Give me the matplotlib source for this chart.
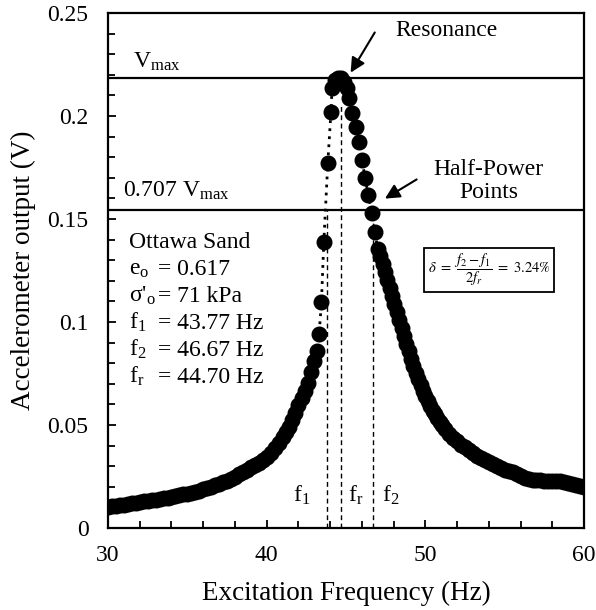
import matplotlib

matplotlib.use("Agg")
import matplotlib.pyplot as plt
from matplotlib.ticker import MultipleLocator

plt.rcParams["font.family"] = ["Liberation Serif", "DejaVu Serif"]
plt.rcParams["mathtext.fontset"] = "stix"

# resonant column sweep, Ottawa sand
freq_hz = [
    30.00, 30.25, 30.50, 30.75, 31.00, 31.25, 31.50, 31.75, 32.00, 32.25,
    32.50, 32.75, 33.00, 33.25, 33.50, 33.75, 34.00, 34.25, 34.50, 34.75,
    35.00, 35.25, 35.50, 35.75, 36.00, 36.25, 36.50, 36.75, 37.00, 37.25,
    37.50, 37.75, 38.00, 38.25, 38.50, 38.75, 39.00, 39.25, 39.50, 39.75,
    40.00, 40.25, 40.50, 40.75, 41.00, 41.20, 41.40, 41.60, 41.80, 42.00,
    42.20, 42.40, 42.60, 42.80, 43.00, 43.15, 43.30, 43.45, 43.60, 43.85,
    44.05, 44.12, 44.30, 44.50, 44.70, 44.90, 45.05, 45.20, 45.38, 45.60,
    45.80, 46.00, 46.20, 46.40, 46.62, 46.82, 47.00, 47.15, 47.30, 47.45,
    47.60, 47.75, 47.90, 48.05, 48.20, 48.35, 48.50, 48.65, 48.80, 48.95,
    49.10, 49.25, 49.40, 49.55, 49.70, 49.85, 50.00, 50.15, 50.30, 50.45,
    50.60, 50.75, 50.90, 51.05, 51.25, 51.50, 51.75, 52.00, 52.25, 52.50,
    52.75, 53.00, 53.25, 53.50, 53.75, 54.00, 54.25, 54.50, 54.75, 55.00,
    55.25, 55.50, 55.75, 56.00, 56.25, 56.50, 56.75, 57.00, 57.25, 57.50,
    57.75, 58.00, 58.25, 58.50, 58.75, 59.00, 59.25, 59.50, 59.75, 60.00,
]
accel_v = [
    0.0102, 0.0105, 0.0108, 0.0111, 0.0114, 0.0117, 0.0120, 0.0123, 0.0126, 0.0129,
    0.0132, 0.0135, 0.0138, 0.0141, 0.0144, 0.0147, 0.0151, 0.0155, 0.0159, 0.0163,
    0.0167, 0.0171, 0.0176, 0.0182, 0.0188, 0.0194, 0.0201, 0.0208, 0.0215, 0.0222,
    0.0230, 0.0240, 0.0250, 0.0260, 0.0271, 0.0282, 0.0294, 0.0306, 0.0318, 0.0331,
    0.0345, 0.0365, 0.0387, 0.0412, 0.0440, 0.0464, 0.0490, 0.0522, 0.0556, 0.0595,
    0.0630, 0.0665, 0.0705, 0.0755, 0.0810, 0.0860, 0.0940, 0.1095, 0.1390, 0.1770,
    0.2020, 0.2136, 0.2175, 0.2184, 0.2184, 0.2165, 0.2135, 0.2085, 0.2015, 0.1947,
    0.1874, 0.1786, 0.1699, 0.1617, 0.1529, 0.1437, 0.1354, 0.1318, 0.1280, 0.1243,
    0.1205, 0.1165, 0.1128, 0.1088, 0.1048, 0.1010, 0.0970, 0.0932, 0.0893, 0.0857,
    0.0820, 0.0785, 0.0752, 0.0722, 0.0693, 0.0665, 0.0640, 0.0615, 0.0592, 0.0570,
    0.0552, 0.0535, 0.0517, 0.0500, 0.0480, 0.0458, 0.0438, 0.0420, 0.0405, 0.0392,
    0.0378, 0.0365, 0.0352, 0.0340, 0.0330, 0.0320, 0.0311, 0.0302, 0.0292, 0.0283,
    0.0275, 0.0270, 0.0262, 0.0252, 0.0243, 0.0237, 0.0234, 0.0232, 0.0231, 0.0229,
    0.0228, 0.0227, 0.0226, 0.0226, 0.0222, 0.0218, 0.0213, 0.0208, 0.0203, 0.0200,
]

v_max = 0.2184
v_half = 0.707 * v_max
f1, f2, fr = 43.77, 46.67, 44.70

x_ticks = [30, 40, 50, 60]
y_ticks = [0, 0.05, 0.10, 0.15, 0.20, 0.25]
y_tick_labels = ["0", "0.05", "0.1", "0.15", "0.2", "0.25"]

sample_labels = ["Ottawa Sand", "e$_\\mathregular{o}$", "σ'$_\\mathregular{o}$",
                 "f$_\\mathregular{1}$", "f$_\\mathregular{2}$", "f$_\\mathregular{r}$"]
sample_values = ["", "= 0.617", "= 71 kPa", "= 43.77 Hz", "= 46.67 Hz", "= 44.70 Hz"]

fig = plt.figure(figsize=(5.96, 6.10), dpi=100)
ax = fig.add_axes([0.1812, 0.1344, 0.7988, 0.8443])

ax.plot(freq_hz, accel_v, color="k", lw=2, ls=(0, (1, 1.9)), zorder=3)
ax.plot(freq_hz, accel_v, "o", color="k", ms=10.5, mec="k", zorder=4)

# reference levels
ax.axhline(v_max, color="k", lw=1.6, zorder=2)
ax.axhline(v_half, color="k", lw=1.6, zorder=2)

dash = (0, (3.5, 2.5))
ax.plot([f1, f1], [0, v_half], color="k", lw=1, ls=dash, zorder=2)
ax.plot([f2, f2], [0, v_half], color="k", lw=1, ls=dash, zorder=2)
ax.plot([fr, fr], [0, 0.205], color="k", lw=1, ls=dash, zorder=2)

fs = 17
ax.text(31.58, 0.2233, "V$_\\mathregular{max}$", fontsize=fs, va="baseline")
ax.text(30.95, 0.1607, "0.707 V$_\\mathregular{max}$", fontsize=fs, va="baseline")

y0, dy = 0.1359, 0.0131
for i, (lab, val) in enumerate(zip(sample_labels, sample_values)):
    y = y0 - i * dy
    ax.text(31.3, y, lab, fontsize=fs, va="baseline")
    if val:
        ax.text(33.15, y, val, fontsize=fs, va="baseline")

ax.text(41.66, 0.0126, "f$_\\mathregular{1}$", fontsize=fs, va="baseline")
ax.text(45.12, 0.0126, "f$_\\mathregular{r}$", fontsize=fs, va="baseline")
ax.text(47.26, 0.0126, "f$_\\mathregular{2}$", fontsize=fs, va="baseline")

ax.text(48.1, 0.2415, "Resonance", fontsize=fs, va="center")
ax.annotate("", xy=(45.2, 0.2199), xytext=(46.9, 0.2417),
            arrowprops=dict(arrowstyle="-|>", color="k", lw=1.5, mutation_scale=22))
ax.text(54.0, 0.1685, "Half-Power\nPoints", fontsize=fs, ha="center", va="center",
        linespacing=1.15)
ax.annotate("", xy=(47.3, 0.1592), xytext=(49.6, 0.1699),
            arrowprops=dict(arrowstyle="-|>", color="k", lw=1.5, mutation_scale=22))

ax.text(54.0, 0.1252,
        r"$\delta\ =\ \dfrac{f_2 - f_1}{2f_r}\ =\ 3.24\%$",
        fontsize=10.5, ha="center", va="center",
        bbox=dict(boxstyle="square,pad=0.25", fc="white", ec="k", lw=1.3))

ax.set_xlim(30, 60)
ax.set_ylim(0, 0.25)
ax.set_xticks(x_ticks)
ax.set_yticks(y_ticks)
ax.set_yticklabels(y_tick_labels)
ax.xaxis.set_minor_locator(MultipleLocator(2))
ax.yaxis.set_minor_locator(MultipleLocator(0.01))
ax.tick_params(which="both", direction="in", top=False, right=False, width=1.3)
ax.tick_params(which="major", length=6, labelsize=fs)
ax.tick_params(which="minor", length=5)
ax.tick_params(axis="x", pad=12)
ax.tick_params(axis="y", pad=14)
for sp in ax.spines.values():
    sp.set_linewidth(1.6)

ax.set_xlabel("Excitation Frequency (Hz)", fontsize=19.5, labelpad=11)
ax.set_ylabel("Accelerometer output (V)", fontsize=19.5, labelpad=8)

fig.savefig("out.png", dpi=100)
